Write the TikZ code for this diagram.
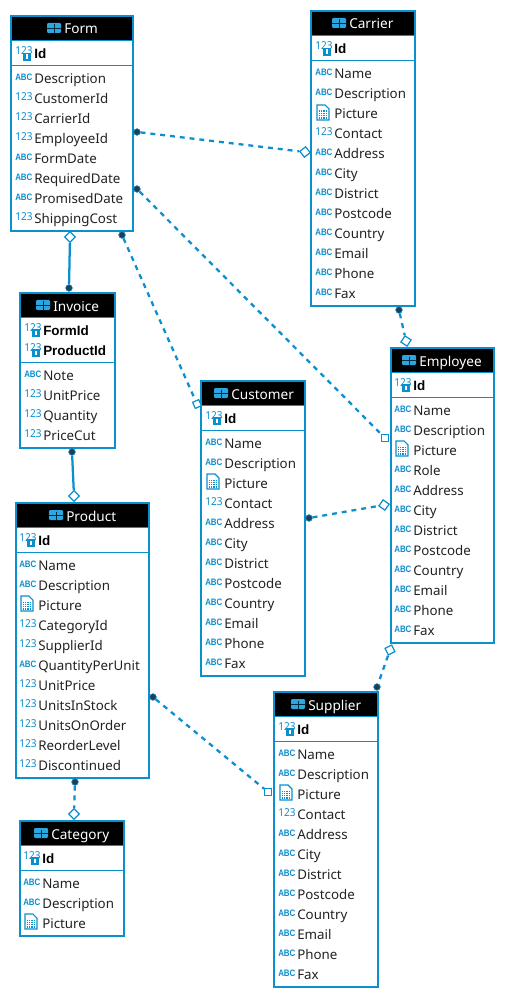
\documentclass[tikz,border=0pt]{standalone}
\usepackage{fontspec}
\setmainfont{Noto Sans}
\newfontfamily\erboldfont{Liberation Sans}
\newfontfamily\ernarrowbold[FakeStretch=0.85]{Liberation Sans}
\newfontfamily\ernarrow[FakeStretch=0.92]{Noto Sans}
\usetikzlibrary{shapes.geometric}
\definecolor{erblue}{HTML}{0A8FCF}
\definecolor{erlight}{HTML}{2BA6E0}
\definecolor{erdot}{HTML}{1F3F55}
\definecolor{ertext}{HTML}{222222}
\tikzset{
  x=0.75pt,y=-0.75pt,
  tablebox/.style={fill=white,rectangle,inner sep=0pt,outer sep=0pt,anchor=north west},
  headbar/.style={fill=black,rectangle,inner sep=0pt,outer sep=0pt,anchor=north west},
  boxline/.style={draw=erblue,line width=1.6pt},
  title/.style={text=white,font=\fontsize{10.2}{12}\selectfont,anchor=base west,inner sep=0pt},
  rowtext/.style={text=ertext,font=\fontsize{10}{12}\selectfont,anchor=base west,inner sep=0pt},
  keytext/.style={text=black,font=\erboldfont\bfseries\fontsize{10.1}{12}\selectfont,anchor=base west,inner sep=0pt},
  abcicon/.style={text=erblue,font=\ernarrowbold\bfseries\fontsize{7}{8}\selectfont,anchor=base west,inner sep=0pt},
  numicon/.style={text=erblue,font=\ernarrow\fontsize{8.2}{9}\selectfont,anchor=base west,inner sep=0pt},
  relline/.style={draw=erblue,line width=1.7pt},
  reldash/.style={relline,dash pattern=on 3.7pt off 3.7pt},
  dotend/.style={circle,fill=erdot,draw=erblue,line width=0.4pt,minimum size=5pt,inner sep=0pt},
  diamend/.style={diamond,aspect=1,draw=erblue,fill=white,line width=0.9pt,minimum size=8.2pt,inner sep=0pt},
  squareend/.style={rectangle,draw=erblue,fill=white,line width=0.9pt,minimum size=5pt,inner sep=0pt},
}
\newcommand{\iconabc}[2]{\node[abcicon] at (#1,#2-2) {ABC};}
\newcommand{\iconnum}[2]{\node[numicon] at (#1,#2-2) {123};}
\newcommand{\iconkey}[2]{\node[numicon] at (#1,#2-3) {123};
  \fill[erblue] (#1+8,#2-5) rectangle (#1+16,#2+3);
  \fill[white] (#1+11,#2-3.5) rectangle (#1+13,#2+1);}
\newcommand{\iconpic}[2]{%
  \draw[erblue,line width=0.8pt,fill=white] (#1+2,#2-13) -- (#1+10,#2-13) -- (#1+14,#2-9) -- (#1+14,#2+2) -- (#1+2,#2+2) -- cycle;
  \foreach \uu in {4,6.2,8.4,10.6}{\foreach \vv in {-7.5,-5.2,-2.9,-0.6}{\fill[erblue] (#1+\uu,#2+\vv) rectangle ++(1.2,1.2);}}}
\newcommand{\headericon}[2]{%
  \fill[erlight,rounded corners=0.8pt] (#1,#2-5) rectangle (#1+14,#2+5);
  \draw[black!70!erblue,line width=0.6pt] (#1,#2) -- (#1+14,#2) (#1+7,#2-3.5) -- (#1+7,#2+5);}
% \ertable{name}{title}{x1}{x2}{y1}{y2}{divider y}{title icon x}
\newcommand{\ertable}[8]{%
  \pgfmathsetmacro{\bw}{(#4-#3)*0.75}
  \pgfmathsetmacro{\bh}{(#6-#5)*0.75}
  \node[tablebox,minimum width=\bw pt,minimum height=\bh pt] (#1) at (#3,#5) {};
  \node[headbar,minimum width=\bw pt,minimum height=18.6pt] (#1head) at (#3,#5) {};
  \draw[erblue,line width=0.8pt] (#1head.south west) -- (#1head.south east);
  \draw[erblue,line width=0.8pt] (#3,#7) -- (#4,#7);
  \draw[boxline] (#1.north west) rectangle (#1.south east);
  \headericon{#8}{#5+12}
  \node[title] (#1title) at (#8+17,#5+18) {#2};
}
\newcommand{\rows}[3]{%
  \foreach \kind/\txt [count=\rr from 0] in {#3}{
    \pgfmathsetmacro{\yy}{#2+20*\rr}
    \pgfmathsetmacro{\xt}{#1+19}
    \pgfmathsetmacro{\yt}{#2+20*\rr+1}
    \csname icon\kind\endcsname{#1}{\yy}
    \node[rowtext] at (\xt,\yt) {\txt};
  }}
\newcommand{\keyrow}[3]{%
  \iconkey{#1}{#2}
  \node[keytext] at (#1+19,#2+1) {#3};}
\begin{document}
\begin{tikzpicture}
\useasboundingbox (0,0) rectangle (505,998);
\fill[white] (0,0) rectangle (505,998);

% Form
\ertable{form}{Form}{11}{133}{16}{231}{65.5}{47}
\keyrow{15}{58}{Id}
\rows{15}{83}{abc/Description,num/CustomerId,num/CarrierId,num/EmployeeId,abc/FormDate,abc/RequiredDate,abc/PromisedDate,num/ShippingCost}
% Carrier
\ertable{carrier}{Carrier}{311}{415}{11}{306}{60.5}{332}
\keyrow{315}{53}{Id}
\rows{315}{78}{abc/Name,abc/Description,pic/Picture,num/Contact,abc/Address,abc/City,abc/District,abc/Postcode,abc/Country,abc/Email,abc/Phone,abc/Fax}
% Invoice
\ertable{invoice}{Invoice}{20}{115}{293}{448}{362.5}{36}
\keyrow{24}{334}{FormId}
\keyrow{24}{354}{ProductId}
\rows{24}{379}{abc/Note,num/UnitPrice,num/Quantity,num/PriceCut}
% Customer
\ertable{customer}{Customer}{201}{305}{381}{676}{430.5}{214}
\keyrow{205}{422}{Id}
\rows{205}{447}{abc/Name,abc/Description,pic/Picture,num/Contact,abc/Address,abc/City,abc/District,abc/Postcode,abc/Country,abc/Email,abc/Phone,abc/Fax}
% Employee
\ertable{employee}{Employee}{391}{494}{348}{643}{397.5}{402}
\keyrow{394}{389}{Id}
\rows{394}{414}{abc/Name,abc/Description,pic/Picture,abc/Role,abc/Address,abc/City,abc/District,abc/Postcode,abc/Country,abc/Email,abc/Phone,abc/Fax}
% Product
\ertable{product}{Product}{16}{149}{503}{778}{552.5}{49}
\keyrow{19}{544}{Id}
\rows{19}{569}{abc/Name,abc/Description,pic/Picture,num/CategoryId,num/SupplierId,abc/QuantityPerUnit,num/UnitPrice,num/UnitsInStock,num/UnitsOnOrder,num/ReorderLevel,num/Discontinued}
% Category
\ertable{category}{Category}{20}{124}{821}{936}{870.5}{34}
\keyrow{23}{862}{Id}
\rows{23}{887}{abc/Name,abc/Description,pic/Picture}
% Supplier
\ertable{supplier}{Supplier}{274}{378}{692}{987}{741.5}{291}
\keyrow{278}{733}{Id}
\rows{278}{758}{abc/Name,abc/Description,pic/Picture,num/Contact,abc/Address,abc/City,abc/District,abc/Postcode,abc/Country,abc/Email,abc/Phone,abc/Fax}

% connector ends
\node[dotend] (a1) at (137,132) {};   \node[diamend,rotate=-7] (b1) at (305,152) {};
\node[diamend] (a2) at (70,237) {};   \node[dotend] (b2) at (69,288) {};
\node[dotend] (a3) at (122,235) {};   \node[squareend,rotate=24] (b3) at (197,404) {};
\node[dotend] (a4) at (137,189) {};   \node[squareend] (b4) at (385,438) {};
\node[dotend] (a5) at (72,452) {};    \node[diamend] (b5) at (74,496) {};
\node[dotend] (a6) at (399,310) {};   \node[diamend,rotate=12] (b6) at (406,341) {};
\node[dotend] (a7) at (309,518) {};   \node[diamend,rotate=10] (b7) at (384,505) {};
\node[diamend,rotate=-19] (a8) at (390,650) {};  \node[dotend] (b8) at (377,687) {};
\node[dotend] (a9) at (153,697) {};   \node[squareend] (b9) at (268,792) {};
\node[dotend] (a10) at (75,782) {};   \node[diamend] (b10) at (74,814) {};
% connectors
\draw[reldash] (a1) -- (b1);
\draw[relline] (a2) -- (b2);
\draw[reldash] (a3) -- (b3);
\draw[reldash] (a4) -- (b4);
\draw[relline] (a5) -- (b5);
\draw[reldash] (a6) -- (b6);
\draw[reldash] (a7) -- (b7);
\draw[reldash] (a8) -- (b8);
\draw[reldash] (a9) -- (b9);
\draw[reldash] (a10) -- (b10);
\end{tikzpicture}
\end{document}
